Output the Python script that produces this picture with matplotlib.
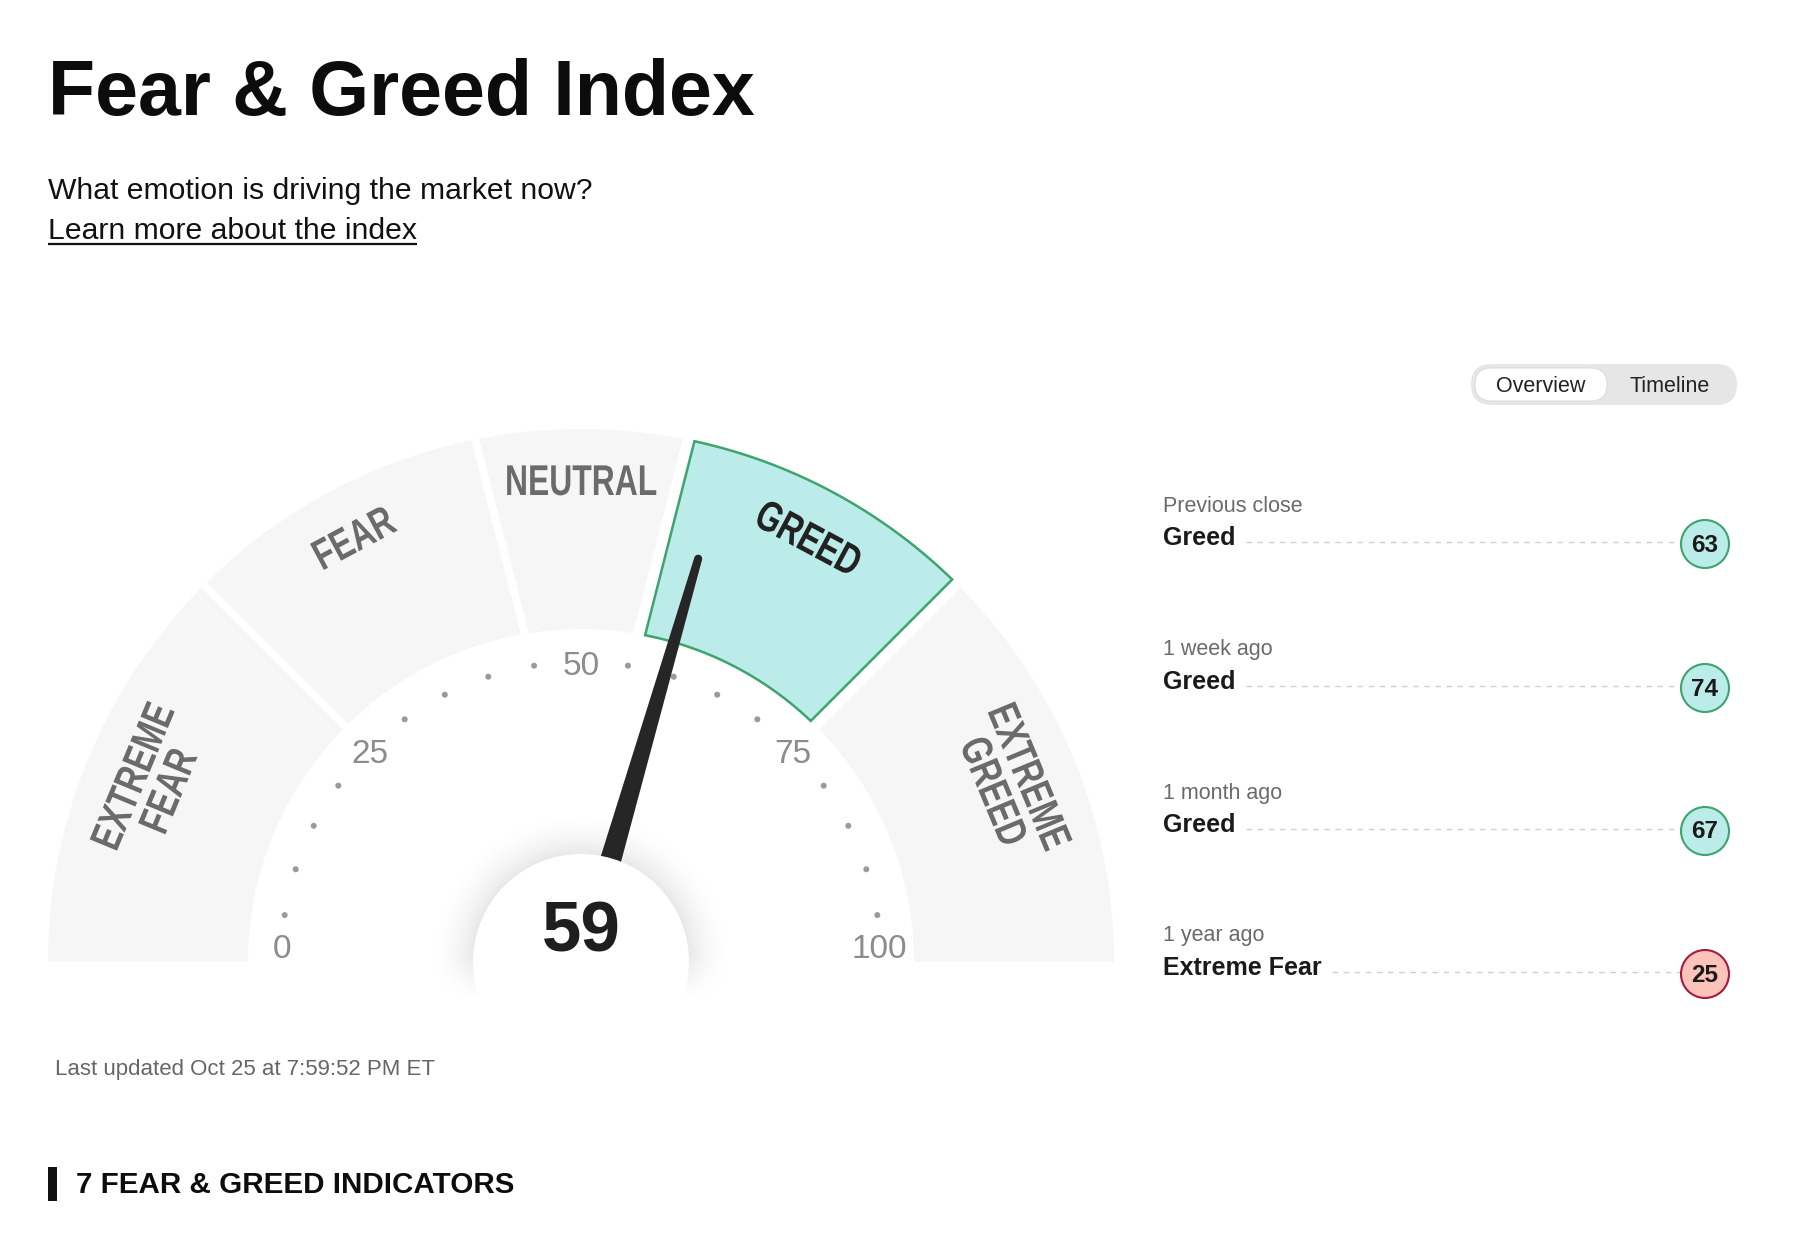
import numpy as np
import matplotlib
matplotlib.use("Agg")
import matplotlib.pyplot as plt
from matplotlib.patches import Polygon, Circle, FancyBboxPatch, Rectangle
from matplotlib.patheffects import AbstractPathEffect
from matplotlib.transforms import Affine2D

# ---- data ----
zone_labels = ["EXTREME\nFEAR", "FEAR", "NEUTRAL", "GREED", "EXTREME\nGREED"]
zone_edges = [0, 25, 45, 55, 75, 100]
index_value = 59
tick_values = [0, 25, 50, 75, 100]
dot_values = [5, 10, 15, 20, 30, 35, 40, 45, 55, 60, 65, 70, 80, 85, 90, 95]

history_periods = ["Previous close", "1 week ago", "1 month ago", "1 year ago"]
history_ratings = ["Greed", "Greed", "Greed", "Extreme Fear"]
history_values = [63, 74, 67, 25]

rating_colors = {
    "Greed": ("#bbece9", "#3ea46e"),
    "Extreme Fear": ("#fcc3bb", "#a81a3c"),
}

plt.rcParams['font.family'] = ['Liberation Sans', 'DejaVu Sans']

W, H = 1800, 1242
fig = plt.figure(figsize=(W / 100, H / 100), dpi=100)
ax = fig.add_axes([0, 0, 1, 1])
ax.set_xlim(0, W)
ax.set_ylim(H, 0)
ax.axis('off')


class Squeeze(AbstractPathEffect):
    """Draw text narrower along its own baseline (condensed look)."""

    def __init__(self, sx, anchor, angle):
        super().__init__()
        self.sx, self.anchor, self.angle = sx, anchor, angle

    def draw_path(self, renderer, gc, tpath, affine, rgbFace=None):
        cx, cy = ax.transData.transform(self.anchor)
        t = (Affine2D().translate(-cx, -cy).rotate_deg(-self.angle)
             .scale(self.sx, 1).rotate_deg(self.angle).translate(cx, cy))
        renderer.draw_path(gc, tpath, affine + t, rgbFace)


# ---- header ----
ax.text(48, 115, "Fear & Greed Index", fontsize=55.5, fontweight='bold', color='#0c0c0c', va='baseline')
ax.text(48, 199, "What emotion is driving the market now?", fontsize=21.7, color='#111111', va='baseline')
link = ax.text(48, 239, "Learn more about the index", fontsize=21.7, color='#111111', va='baseline')

# ---- gauge ----
CX, CY = 581, 962
R_OUT, R_IN = 533, 333
SPREAD_OUT, SPREAD_IN = 1.27, 1.08   # the middle zones fan out a little wider


def ang_deg(v):
    return 180 - 1.8 * v


def ang(v):
    return np.radians(ang_deg(v))


def edge_angle(v, outer):
    a = ang_deg(v)
    if 25 < v < 75:
        a = 90 + (a - 90) * (SPREAD_OUT if outer else SPREAD_IN)
    return np.radians(a)


def band(v0, v1, gap):
    def off(r, v):
        return 0.0 if v in (0, 100) else np.arcsin(gap / 2 / r)
    outer = np.linspace(edge_angle(v0, True) - off(R_OUT, v0), edge_angle(v1, True) + off(R_OUT, v1), 120)
    inner = np.linspace(edge_angle(v1, False) + off(R_IN, v1), edge_angle(v0, False) - off(R_IN, v0), 120)
    xs = np.concatenate([CX + R_OUT * np.cos(outer), CX + R_IN * np.cos(inner)])
    ys = np.concatenate([CY - R_OUT * np.sin(outer), CY - R_IN * np.sin(inner)])
    return np.column_stack([xs, ys])


for i, lab in enumerate(zone_labels):
    v0, v1 = zone_edges[i], zone_edges[i + 1]
    active = v0 <= index_value < v1
    if active:
        ax.add_patch(Polygon(band(v0, v1, 16), closed=True,
                             facecolor='#bbece9', edgecolor='#3ea46e', lw=1.8, zorder=2))
    else:
        ax.add_patch(Polygon(band(v0, v1, 8), closed=True,
                             facecolor='#f6f6f6', edgecolor='none', zorder=1))
    a = (edge_angle(v0, True) + edge_angle(v1, True)) / 2
    r_lab = 478 if '\n' not in lab else 463
    pos = (CX + r_lab * np.cos(a), CY - r_lab * np.sin(a))
    rot = np.degrees(a) - 90
    ax.text(pos[0], pos[1], lab, rotation=rot, rotation_mode='anchor',
            ha='center', va='center', multialignment='center', linespacing=0.95,
            fontsize=31, fontweight='bold',
            color='#222222' if active else '#6b6b6b', zorder=3,
            path_effects=[Squeeze(0.74, pos, rot)])

# dots and scale labels
for v in dot_values:
    a = ang(v)
    ax.add_patch(Circle((CX + 300 * np.cos(a), CY - 300 * np.sin(a)), 3,
                        facecolor='#9a9a9a', edgecolor='none', zorder=3))
for v in tick_values:
    a = ang(np.clip(v, 1.7, 98.3))
    ax.text(CX + 299 * np.cos(a), CY - 299 * np.sin(a) + 12, str(v), fontsize=24,
            color='#8c8c8c', ha='center', va='baseline', zorder=3)

# soft shadow round the centre disc
gx = np.arange(CX - 170, CX + 170)
gy = np.arange(CY - 170, CY + 60)
XX, YY = np.meshgrid(gx, gy)
D = np.hypot(XX - CX, YY - CY)
alpha = np.clip(1 - (D - 106) / 50, 0, 1) ** 2 * 0.10
alpha[D < 106] = 0
alpha *= np.clip((1000 - YY) / 45, 0, 1)
rgba = np.zeros(D.shape + (4,))
rgba[..., 3] = alpha
ax.imshow(rgba, extent=(gx[0], gx[-1], gy[-1], gy[0]), zorder=4, interpolation='bilinear')

# needle
a = ang(index_value)
ux, uy = np.cos(a), -np.sin(a)
px, py = -uy, ux
r_tip = 420
hw_base, hw_tip = 12.7, 4
needle = np.array([
    [CX + px * hw_base, CY + py * hw_base],
    [CX + ux * r_tip + px * hw_tip, CY + uy * r_tip + py * hw_tip],
    [CX + ux * r_tip - px * hw_tip, CY + uy * r_tip - py * hw_tip],
    [CX - px * hw_base, CY - py * hw_base],
])
ax.add_patch(Polygon(needle, closed=True, facecolor='#262626', edgecolor='none', zorder=5))
ax.add_patch(Circle((CX + ux * r_tip, CY + uy * r_tip), hw_tip, facecolor='#262626',
                    edgecolor='none', zorder=5))

disc = Circle((CX, CY), 108, facecolor='white', edgecolor='none', zorder=6)
ax.add_patch(disc)
disc.set_clip_path(Rectangle((CX - 120, CY - 120), 240, 160, transform=ax.transData))
ax.text(CX, 934, str(index_value), fontsize=51, fontweight='bold', color='#1e1e1e',
        ha='center', va='center', zorder=7)

ax.text(55, 1069, "Last updated Oct 25 at 7:59:52 PM ET", fontsize=16, color='#666666', va='center')

# ---- section heading ----
ax.add_patch(Rectangle((48, 1167), 9, 34, facecolor='#111111', edgecolor='none'))
ax.text(76, 1185, "7 FEAR & GREED INDICATORS", fontsize=21.3, fontweight='bold', color='#0c0c0c', va='center')

# ---- toggle ----
ax.add_patch(FancyBboxPatch((1471, 364), 266, 41, boxstyle='round,pad=0,rounding_size=20.5',
                            facecolor='#e6e6e6', edgecolor='none'))
ax.add_patch(FancyBboxPatch((1475, 368), 132, 33, boxstyle='round,pad=0,rounding_size=16.5',
                            facecolor='white', edgecolor='#dddddd', lw=0.8))
ax.text(1541, 386, "Overview", fontsize=15.5, color='#222222', ha='center', va='center')
ax.text(1670, 386, "Timeline", fontsize=15.5, color='#222222', ha='center', va='center')

# ---- history list ----
row_y = [544, 688, 831, 974]
LX, CIRC_X, CIRC_R = 1163, 1705, 24
rating_texts = []
for period, rating, val, y in zip(history_periods, history_ratings, history_values, row_y):
    ax.text(LX, y - 38, period, fontsize=15.5, color='#6a6a6a', va='center')
    rating_texts.append(ax.text(LX, y - 6, rating, fontsize=18, fontweight='bold',
                                color='#1a1a1a', va='center'))
    fc, ec = rating_colors[rating]
    ax.add_patch(Circle((CIRC_X, y), CIRC_R, facecolor=fc, edgecolor=ec, lw=1.5, zorder=3))
    ax.text(CIRC_X, y + 1, str(val), fontsize=17.5, fontweight='bold', color='#1a1a1a',
            ha='center', va='center', zorder=4)

fig.canvas.draw()
renderer = fig.canvas.get_renderer()
inv = ax.transData.inverted()
for t, y in zip(rating_texts, row_y):
    bb = t.get_window_extent(renderer)
    x_end = inv.transform((bb.x1, bb.y0))[0]
    ax.plot([x_end + 10, CIRC_X - CIRC_R], [y - 2, y - 2], color='#d0d0d0', lw=1,
            dashes=(4, 4), zorder=2)

bb = link.get_window_extent(renderer)
(lx0, _), (lx1, _) = inv.transform([(bb.x0, bb.y0), (bb.x1, bb.y0)])
ax.plot([lx0, lx1], [244, 244], color='#111111', lw=1.6, solid_capstyle='butt')

fig.savefig("out.png", dpi=100, facecolor='white')
